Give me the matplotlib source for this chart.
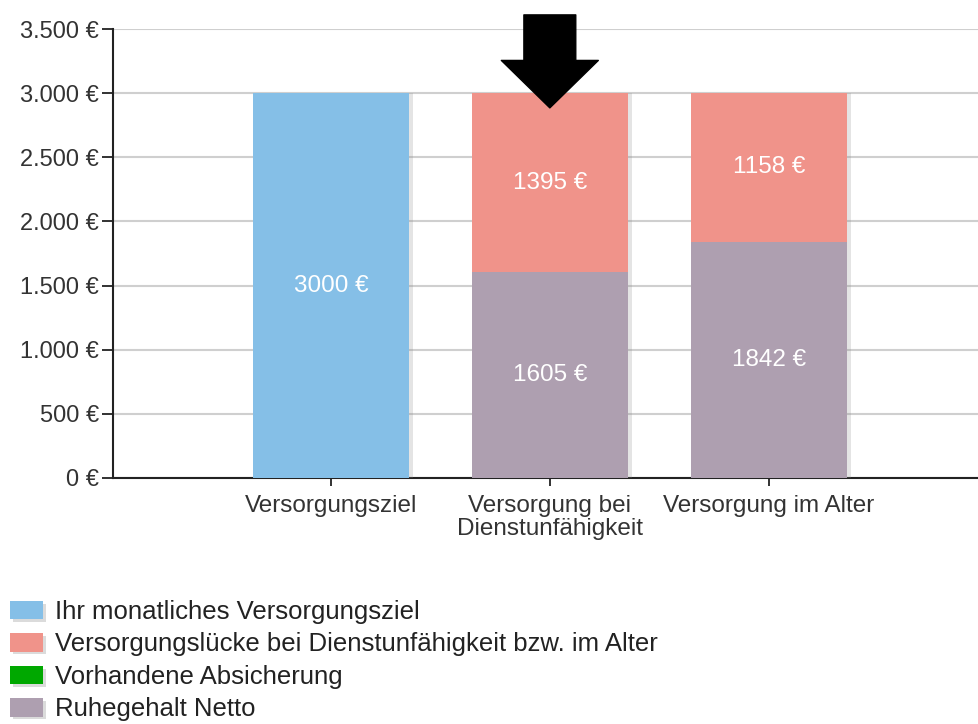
import numpy as np
import matplotlib
matplotlib.use('Agg')
import matplotlib.pyplot as plt
import matplotlib.patheffects as pe
from matplotlib.patches import FancyArrow

plt.rcParams['font.family'] = ['Liberation Sans', 'DejaVu Sans']

categories = ['Versorgungsziel', 'Versorgung bei\nDienstunfähigkeit', 'Versorgung im Alter']
ziel = [3000, 0, 0]
ruhegehalt = [0, 1605, 1842]
absicherung = [0, 0, 0]
luecke = [0, 1395, 1158]
yticks = [0, 500, 1000, 1500, 2000, 2500, 3000, 3500]
arrow_category = 1

c_ziel = '#85bfe7'
c_luecke = '#f0938a'
c_absich = '#00a800'
c_ruhe = '#ae9fb0'

fig = plt.figure(figsize=(9.79, 7.24), dpi=100)
ax = fig.add_axes([113 / 979, 1 - 478 / 724, 1 - 113 / 979, 449 / 724])

x = np.arange(len(categories))
w = 0.71
shadow = [pe.SimplePatchShadow(offset=(3, 0), shadow_rgbFace='#888888', alpha=0.22), pe.Normal()]

b_ruhe = ax.bar(x, ruhegehalt, w, color=c_ruhe, zorder=3)
bottom = np.array(ruhegehalt)
b_abs = ax.bar(x, absicherung, w, bottom=bottom, color=c_absich, zorder=3)
bottom = bottom + np.array(absicherung)
b_lue = ax.bar(x, luecke, w, bottom=bottom, color=c_luecke, zorder=3)
bottom = bottom + np.array(luecke)
b_ziel = ax.bar(x, ziel, w, bottom=bottom, color=c_ziel, zorder=3)

for cont in (b_ruhe, b_abs, b_lue, b_ziel):
    for p in cont.patches:
        if p.get_height() > 0:
            p.set_path_effects(shadow)
            ax.text(p.get_x() + p.get_width() / 2, p.get_y() + p.get_height() / 2,
                    f'{int(p.get_height())} €', ha='center', va='center',
                    color='white', fontsize=17.5, zorder=5)

ax.set_xlim(-0.995, 2.96)
ax.set_ylim(0, 3500)
ax.set_yticks(yticks)
ax.set_yticklabels([f'{v:,} €'.replace(',', '.') for v in yticks], fontsize=17, color='#333333')
ax.set_xticks(x)
ax.set_xticklabels(categories, fontsize=17.5, color='#333333', linespacing=1.05)
ax.tick_params(axis='y', length=8, width=1.3, color='#222222', pad=2)
ax.tick_params(axis='x', length=6, width=1.3, color='#222222', pad=6)
ax.grid(axis='y', color='#cfcfcf', linewidth=1.5, zorder=0)
ax.set_axisbelow(True)
for s in ('top', 'right'):
    ax.spines[s].set_visible(False)
for s in ('left', 'bottom'):
    ax.spines[s].set_linewidth(1.5)
    ax.spines[s].set_color('#222222')

# arrow pointing on the second bar
top = ax.get_ylim()[1]
arr = FancyArrow(x[arrow_category], top + 110, 0, -725, width=0.237, head_width=0.443,
                 head_length=370, length_includes_head=True, color='black',
                 zorder=6, clip_on=False, joinstyle='round')
ax.add_patch(arr)

handles = [b_ziel, b_lue, b_abs, b_ruhe]
labels = ['Ihr monatliches Versorgungsziel',
          'Versorgungslücke bei Dienstunfähigkeit bzw. im Alter',
          'Vorhandene Absicherung',
          'Ruhegehalt Netto']
leg = fig.legend(handles, labels, loc='upper left', bbox_to_anchor=(10 / 979, 1 - 600 / 724),
                 frameon=False, fontsize=18.5, borderpad=0, borderaxespad=0,
                 labelspacing=0.33, handlelength=1.28, handleheight=0.72, handletextpad=0.46)
for t in leg.get_texts():
    t.set_color('#222222')
for p in leg.get_patches():
    p.set_path_effects([pe.SimplePatchShadow(offset=(2, -2), shadow_rgbFace='#888888', alpha=0.3), pe.Normal()])

fig.savefig('out.png', dpi=100)
